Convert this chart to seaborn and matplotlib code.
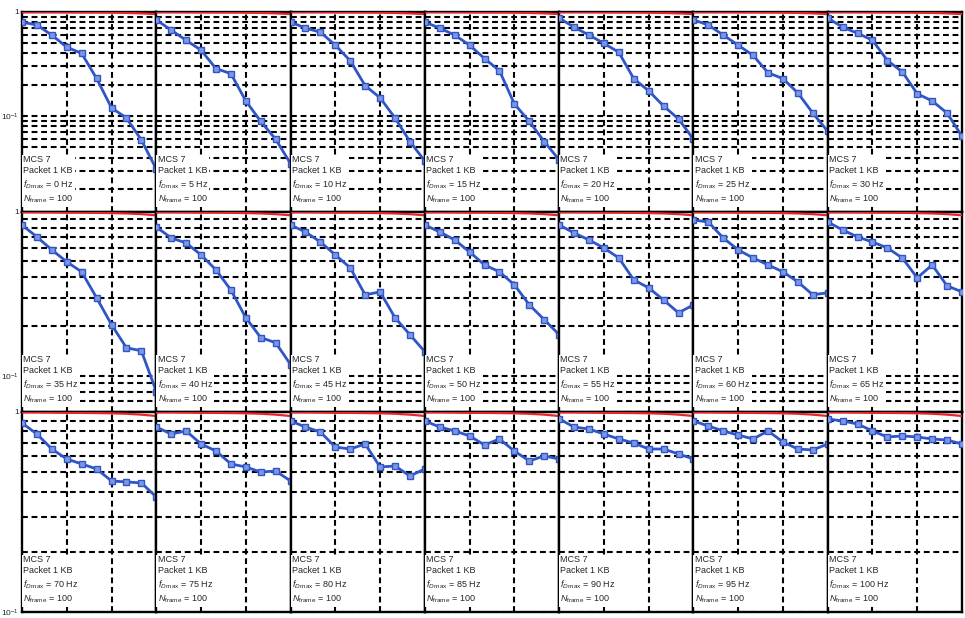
import numpy as np
import pandas as pd
import matplotlib
matplotlib.use("Agg")
import matplotlib.pyplot as plt
import seaborn as sns
from matplotlib.ticker import LogLocator, NullFormatter, FixedLocator, FuncFormatter

# Maximum Doppler frequency of each panel (Hz), laid out row by row
doppler_hz = [0, 5, 10, 15, 20, 25, 30,
              35, 40, 45, 50, 55, 60, 65,
              70, 75, 80, 85, 90, 95, 100]

# SNR steps along the horizontal axis
snr_step = [0, 1, 2, 3, 4, 5, 6, 7, 8, 9]

# Packet error rate, one list per Doppler setting
per_fd_0 = [0.80, 0.75, 0.60, 0.46, 0.40, 0.23, 0.12, 0.096, 0.059, 0.031]
per_fd_5 = [0.84, 0.67, 0.535, 0.43, 0.286, 0.256, 0.14, 0.089, 0.060, 0.035]
per_fd_10 = [0.80, 0.70, 0.64, 0.48, 0.34, 0.196, 0.15, 0.096, 0.057, 0.037]
per_fd_15 = [0.80, 0.70, 0.60, 0.48, 0.357, 0.273, 0.131, 0.089, 0.057, 0.038]
per_fd_20 = [0.875, 0.715, 0.60, 0.50, 0.41, 0.229, 0.175, 0.125, 0.094, 0.060]
per_fd_25 = [0.84, 0.75, 0.60, 0.48, 0.383, 0.261, 0.229, 0.167, 0.107, 0.0715]
per_fd_30 = [0.875, 0.715, 0.625, 0.535, 0.342, 0.266, 0.164, 0.14, 0.107, 0.064]

per_fd_35 = [0.833, 0.704, 0.587, 0.496, 0.431, 0.299, 0.205, 0.148, 0.142, 0.080]
per_fd_40 = [0.81, 0.694, 0.647, 0.547, 0.443, 0.334, 0.226, 0.171, 0.159, 0.117]
per_fd_45 = [0.833, 0.755, 0.656, 0.547, 0.456, 0.312, 0.325, 0.226, 0.178, 0.14]
per_fd_50 = [0.833, 0.755, 0.675, 0.57, 0.475, 0.431, 0.359, 0.271, 0.22, 0.178]
per_fd_55 = [0.833, 0.745, 0.675, 0.603, 0.524, 0.385, 0.344, 0.29, 0.242, 0.271]
per_fd_60 = [0.894, 0.869, 0.694, 0.587, 0.524, 0.475, 0.431, 0.374, 0.312, 0.321]
per_fd_65 = [0.869, 0.777, 0.704, 0.656, 0.603, 0.524, 0.396, 0.475, 0.354, 0.325]

per_fd_70 = [0.881, 0.776, 0.653, 0.582, 0.55, 0.519, 0.452, 0.447, 0.442, 0.376]
per_fd_75 = [0.841, 0.776, 0.804, 0.692, 0.638, 0.55, 0.531, 0.501, 0.507, 0.452]
per_fd_80 = [0.902, 0.841, 0.794, 0.668, 0.653, 0.692, 0.531, 0.537, 0.479, 0.519]
per_fd_85 = [0.902, 0.841, 0.804, 0.759, 0.684, 0.733, 0.638, 0.569, 0.603, 0.582]
per_fd_90 = [0.923, 0.841, 0.822, 0.776, 0.733, 0.70, 0.653, 0.653, 0.617, 0.582]
per_fd_95 = [0.902, 0.851, 0.804, 0.767, 0.733, 0.804, 0.708, 0.653, 0.646, 0.692]
per_fd_100 = [0.923, 0.902, 0.871, 0.804, 0.75, 0.759, 0.75, 0.733, 0.724, 0.692]

# Reference curve (red) close to unity
per_reference = [0.995, 0.995, 0.993, 0.99, 0.99, 0.988, 0.985, 0.98, 0.97, 0.955]

per_lists = [per_fd_0, per_fd_5, per_fd_10, per_fd_15, per_fd_20, per_fd_25, per_fd_30,
             per_fd_35, per_fd_40, per_fd_45, per_fd_50, per_fd_55, per_fd_60, per_fd_65,
             per_fd_70, per_fd_75, per_fd_80, per_fd_85, per_fd_90, per_fd_95, per_fd_100]

frames = []
for fd, per in zip(doppler_hz, per_lists):
    frames.append(pd.DataFrame({"fd": fd, "step": snr_step, "per": per, "curve": "sim"}))
    frames.append(pd.DataFrame({"fd": fd, "step": snr_step, "per": per_reference, "curve": "ref"}))
data = pd.concat(frames, ignore_index=True)

sns.set_style("white")
plt.rcParams["font.family"] = ["Liberation Sans", "DejaVu Sans"]
plt.rcParams["mathtext.fontset"] = "custom"
plt.rcParams["mathtext.rm"] = "Liberation Sans"
plt.rcParams["mathtext.it"] = "Liberation Sans:italic"

row_bottom = [0.012, 0.06, 0.1]

fig, axes = plt.subplots(3, 7, figsize=(9.65, 6.18), dpi=100)
fig.subplots_adjust(left=22 / 965, right=962 / 965, top=1 - 12 / 618,
                    bottom=1 - 612 / 618, wspace=0, hspace=0)


def tick_text(v, pos):
    if abs(v - 1) < 1e-9:
        return "1"
    e = int(round(np.log10(v)))
    return r"$10^{%d}$" % e


grid_style = dict(color="black", lw=1.5, ls=(0, (2.8, 1.8)))

for idx, fd in enumerate(doppler_hz):
    r, c = divmod(idx, 7)
    ax = axes[r, c]
    sub = data[data["fd"] == fd]
    sns.lineplot(data=sub[sub["curve"] == "ref"], x="step", y="per", ax=ax,
                 color="#e8252a", lw=1.6, legend=False, zorder=3)
    sns.lineplot(data=sub[sub["curve"] == "sim"], x="step", y="per", ax=ax,
                 color="#2f55c8", lw=2.0, marker="s", markersize=4,
                 markerfacecolor="#7d97e2", markeredgecolor="#2f55c8",
                 markeredgewidth=1.0, legend=False, zorder=4)
    ax.set_yscale("log")
    ax.set_xlim(0, 9)
    ax.set_ylim(row_bottom[r], 1.0)
    ax.xaxis.set_major_locator(FixedLocator([3, 6]))
    ax.yaxis.set_major_locator(LogLocator(base=10))
    ax.yaxis.set_minor_locator(LogLocator(base=10, subs=np.arange(2, 10)))
    ax.yaxis.set_minor_formatter(NullFormatter())
    ax.grid(True, which="both", axis="y", **grid_style)
    ax.grid(True, which="major", axis="x", **grid_style)
    ax.set_xticklabels([])
    ax.set_xlabel("")
    ax.set_ylabel("")
    ax.tick_params(axis="both", which="both", length=0, pad=2)
    if c == 0:
        ax.yaxis.set_major_formatter(FuncFormatter(tick_text))
        ax.tick_params(axis="y", labelsize=6)
    else:
        ax.set_yticklabels([])
    for s in ax.spines.values():
        s.set_visible(True)
        s.set_color("black")
        s.set_linewidth(1.7)
    label = ("MCS 7\nPacket 1 KB\n"
             r"$f_{D\,\max}$ = %d Hz" "\n"
             r"$N_{\mathrm{frame}}$ = 100") % fd
    ax.text(0.01, 0.285, label, transform=ax.transAxes, ha="left", va="top",
            fontsize=6.5, linespacing=1.35, zorder=5,
            bbox=dict(facecolor="white", edgecolor="none", pad=1.0))

fig.savefig("out.png", dpi=100)
